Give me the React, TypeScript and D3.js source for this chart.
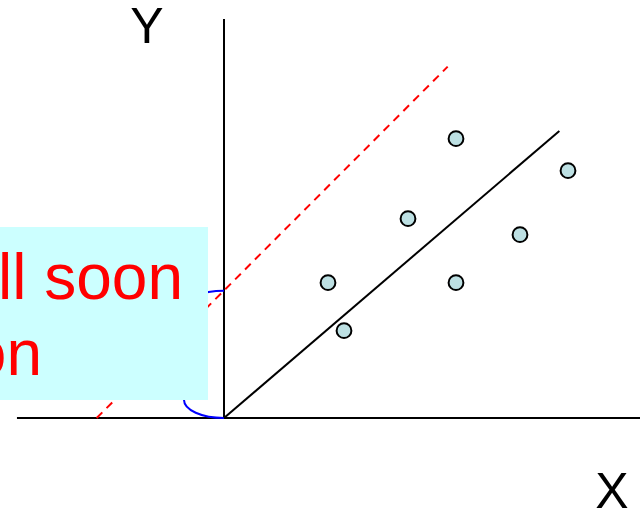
import React from "react";
import * as d3 from "d3";

// Data (in plot units)
const pointX = [6.5, 7.5, 11.5, 14.5, 14.5, 18.5, 21.5];
const pointY = [8.46, 5.46, 12.46, 17.46, 8.46, 11.46, 15.46];
const fitLine = [
  [0, 0],
  [20.96, 17.94],
];
const shiftedLine = [
  [-7.96, 0],
  [13.98, 21.96],
];
const interceptY = 7.96;
const axisLabels = ["X", "Y"];
const noteLines = ["will soon", "on"];

const W = 642;
const H = 511;

export default function App() {
  const x = d3.scaleLinear().domain([0, 26]).range([224, 640]);
  const y = d3.scaleLinear().domain([0, 25]).range([418, 18]);
  const line = d3
    .line<number[]>()
    .x((d) => x(d[0]))
    .y((d) => y(d[1]));

  const x0 = x(0);
  const y0 = y(0);
  const yi = y(interceptY);
  const bx = x0 - 40;
  const bracket = `M${x0},${yi} A40,18 0 0 0 ${bx},${yi + 18} V${y0 - 18} A40,18 0 0 0 ${x0},${y0}`;

  return (
    <svg
      width={W}
      height={H}
      style={{ position: "absolute", left: 0, top: 0, background: "#fff" }}
      fontFamily="'Liberation Sans', Arial, sans-serif"
    >
      {/* axes */}
      <line x1={x(-12.94)} y1={y0} x2={x(26)} y2={y0} stroke="#000" strokeWidth={2} />
      <line x1={x0} y1={y0} x2={x0} y2={y(24.94)} stroke="#000" strokeWidth={2} />

      {/* dashed shifted line */}
      <path d={line(shiftedLine) || ""} stroke="#ff0000" strokeWidth={2} strokeDasharray="8,6" fill="none" />
      {/* intercept bracket */}
      <path d={bracket} stroke="#0000ff" strokeWidth={2} fill="none" />

      {/* fit line */}
      <path d={line(fitLine) || ""} stroke="#000" strokeWidth={2} fill="none" />

      {/* points */}
      {pointX.map((px, i) => (
        <circle key={i} cx={x(px)} cy={y(pointY[i])} r={7.4} fill="#bde0e3" stroke="#000" strokeWidth={2} />
      ))}

      {/* note box */}
      <rect x={0} y={227} width={208} height={173} fill="#ccffff" />
      <text x={183} y={299} fontSize={64} fill="#ff0000" textAnchor="end">
        {noteLines[0]}
      </text>
      <text x={42} y={375} fontSize={64} fill="#ff0000" textAnchor="end">
        {noteLines[1]}
      </text>

      {/* axis labels */}
      <text x={147} y={43} fontSize={50} textAnchor="middle" fill="#000">
        {axisLabels[1]}
      </text>
      <text x={612} y={508} fontSize={50} textAnchor="middle" fill="#000">
        {axisLabels[0]}
      </text>
    </svg>
  );
}
